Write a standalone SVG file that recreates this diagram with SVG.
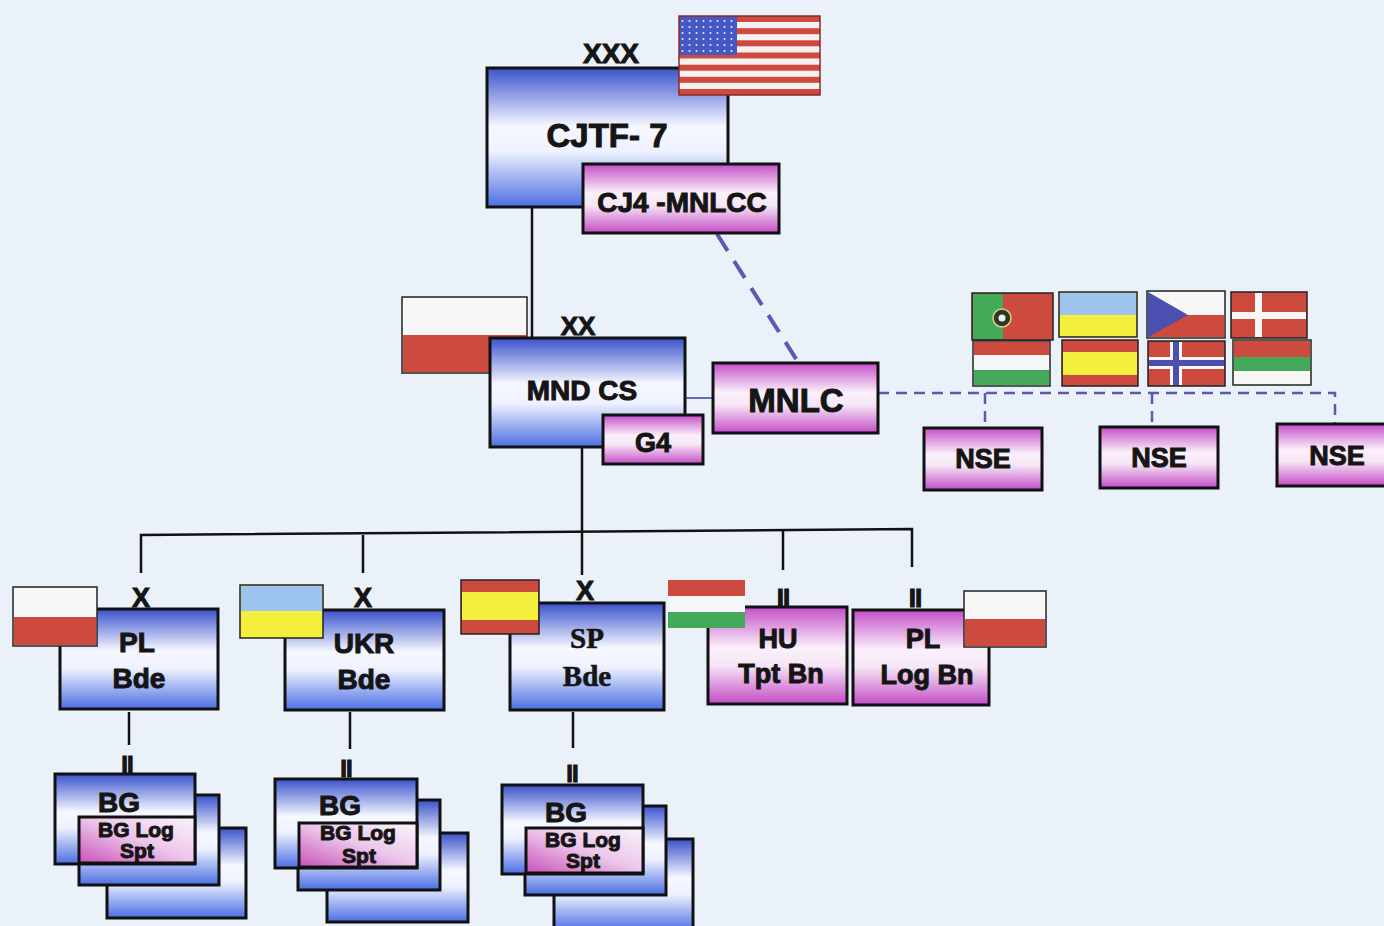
<svg xmlns="http://www.w3.org/2000/svg" width="1384" height="926" viewBox="0 0 1384 926">
<defs>
<linearGradient id="gBlue" x1="0" y1="0" x2="0" y2="1">
<stop offset="0" stop-color="#3a52cc"/>
<stop offset="0.42" stop-color="#f6f8ff"/>
<stop offset="0.6" stop-color="#eef2ff"/>
<stop offset="1" stop-color="#4a6ee2"/>
</linearGradient>
<linearGradient id="gPink" x1="0" y1="0" x2="0" y2="1">
<stop offset="0" stop-color="#c44ec8"/>
<stop offset="0.42" stop-color="#faf0fa"/>
<stop offset="0.6" stop-color="#f6e6f6"/>
<stop offset="1" stop-color="#c44cc6"/>
</linearGradient>
<linearGradient id="gPinkD" x1="1" y1="0" x2="0" y2="1">
<stop offset="0" stop-color="#faf4fa"/>
<stop offset="0.5" stop-color="#ecc4ea"/>
<stop offset="1" stop-color="#c850b8"/>
</linearGradient>
<pattern id="stars" width="7" height="6" patternUnits="userSpaceOnUse">
<rect width="7" height="6" fill="#4658c4"/>
<circle cx="3.5" cy="3" r="1" fill="#e8ecff"/>
</pattern>
</defs>
<style>
.box{stroke:#111;stroke-width:3}
.b{fill:url(#gBlue)}
.p{fill:url(#gPink)}
.pd{fill:url(#gPinkD)}
.t{font-family:"Liberation Sans",Arial,sans-serif;font-weight:bold;fill:#151515;text-anchor:middle;stroke:#151515;stroke-width:1}
.s{font-family:"Liberation Serif","Times New Roman",serif;font-weight:bold;fill:#151515;text-anchor:middle;stroke:#151515;stroke-width:0.6}
.ln{stroke:#111;stroke-width:2.5;fill:none}
.dl{stroke:#5a5ab0;fill:none}
.fl{stroke:#222;stroke-width:1.5}
.red{fill:#cc4a3e}
.wht{fill:#f7f7f7}
.grn{fill:#45a95a}
.yel{fill:#f4ef3c}
.sky{fill:#9cc4ee}
.nav{fill:#4b4fb0}
</style>
<rect width="1384" height="926" fill="#eaf1f8"/>

<g id="connectors">
<line class="ln" x1="532" y1="207" x2="532" y2="338"/>
<line x1="685" y1="398" x2="713" y2="398" stroke="#6a6ab8" stroke-width="2"/>
<line class="dl" x1="717" y1="234" x2="798" y2="362" stroke-width="4" stroke-dasharray="20 12"/>
<path class="dl" d="M878,393 H1335 V424 M985,393 V428 M1152,393 V427" stroke-width="2.5" stroke-dasharray="11 7"/>
<line class="ln" x1="582" y1="447" x2="582" y2="575"/>
<polyline class="ln" points="141,573 141,535 912,529 912,567"/>
<line class="ln" x1="363" y1="535" x2="363" y2="573"/>
<line class="ln" x1="783" y1="531" x2="783" y2="570"/>
<line class="ln" x1="129" y1="712" x2="129" y2="745"/>
<line class="ln" x1="350" y1="712" x2="350" y2="749"/>
<line class="ln" x1="573" y1="712" x2="573" y2="748"/>
</g>

<g id="cjtf7">
<rect class="box b" x="487" y="68" width="241" height="139"/>
<text class="t" x="611" y="63" font-size="28">XXX</text>
<text class="t" x="607" y="147" font-size="33">CJTF- 7</text>
<g id="flag-us">
<rect x="679" y="16" width="141" height="79" fill="#f6f0f0"/>
<rect class="red" x="679" y="16" width="141" height="6"/>
<rect class="red" x="679" y="28.2" width="141" height="6"/>
<rect class="red" x="679" y="40.3" width="141" height="6"/>
<rect class="red" x="679" y="52.5" width="141" height="6"/>
<rect class="red" x="679" y="64.7" width="141" height="6"/>
<rect class="red" x="679" y="76.8" width="141" height="6"/>
<rect class="red" x="679" y="89" width="141" height="6"/>
<rect x="679" y="16" width="58" height="39" fill="url(#stars)"/>
<rect x="679" y="16" width="141" height="79" fill="none" stroke="#8a2a2a" stroke-width="1.5"/>
</g>
</g>

<g id="cj4-mnlcc">
<rect class="box p" x="583" y="164" width="196" height="69"/>
<text class="t" x="682" y="212" font-size="28">CJ4 -MNLCC</text>
</g>

<g id="mnd-cs">
<rect class="fl wht" x="402" y="297" width="125" height="76"/>
<rect class="red" x="403" y="335" width="123" height="37"/>
<rect class="box b" x="490" y="338" width="195" height="109"/>
<text class="t" x="578" y="335" font-size="26">XX</text>
<text class="t" x="582" y="400" font-size="28">MND CS</text>
</g>

<g id="g4">
<rect class="box p" x="603" y="415" width="100" height="49"/>
<text class="t" x="653" y="452" font-size="27">G4</text>
</g>

<g id="mnlc">
<rect class="box p" x="713" y="363" width="165" height="70"/>
<text class="t" x="796" y="412" font-size="33">MNLC</text>
</g>

<g id="nse-flags">
<rect class="fl red" x="972" y="293" width="81" height="47"/>
<rect class="grn" x="973" y="294" width="30" height="45"/>
<circle cx="1002" cy="318" r="9" fill="#2a3a2a" stroke="#e0d080" stroke-width="1.5"/>
<circle cx="1002" cy="318" r="3.5" fill="#f0f0f0"/>
<rect class="fl yel" x="1059" y="292" width="78" height="45"/>
<rect class="sky" x="1060" y="293" width="76" height="22"/>
<rect class="fl wht" x="1147" y="291" width="78" height="47"/>
<rect class="red" x="1148" y="315" width="76" height="22"/>
<polygon points="1148,292 1188,315 1148,337" fill="#4b4fb0"/>
<rect class="fl red" x="1231" y="292" width="76" height="46"/>
<rect class="wht" x="1255" y="293" width="7" height="44"/>
<rect class="wht" x="1232" y="312" width="74" height="7"/>
<rect class="fl wht" x="973" y="341" width="77" height="45"/>
<rect class="red" x="974" y="342" width="75" height="13"/>
<rect class="grn" x="974" y="370" width="75" height="15"/>
<rect class="fl red" x="1062" y="340" width="76" height="46"/>
<rect class="yel" x="1063" y="352" width="74" height="23"/>
<rect class="fl red" x="1148" y="341" width="77" height="45"/>
<rect class="wht" x="1170" y="342" width="12" height="43"/>
<rect class="wht" x="1149" y="357" width="75" height="12"/>
<rect class="nav" x="1173" y="342" width="6" height="43"/>
<rect class="nav" x="1149" y="360" width="75" height="6"/>
<rect class="fl wht" x="1233" y="340" width="78" height="45"/>
<rect class="red" x="1234" y="341" width="76" height="16"/>
<rect class="grn" x="1234" y="357" width="76" height="14"/>
</g>

<g id="nse-1">
<rect class="box p" x="924" y="428" width="118" height="62"/>
<text class="t" x="983" y="468" font-size="27">NSE</text>
</g>
<g id="nse-2">
<rect class="box p" x="1100" y="427" width="118" height="61"/>
<text class="t" x="1159" y="467" font-size="27">NSE</text>
</g>
<g id="nse-3">
<rect class="box p" x="1277" y="424" width="112" height="62"/>
<text class="t" x="1337" y="465" font-size="27">NSE</text>
</g>

<g id="pl-bde">
<rect class="box b" x="60" y="609" width="158" height="100"/>
<rect class="fl wht" x="13" y="587" width="84" height="59"/>
<rect class="red" x="14" y="617" width="82" height="28"/>
<text class="t" x="141" y="607" font-size="27">X</text>
<text class="t" x="137" y="652" font-size="28">PL</text>
<text class="t" x="139" y="688" font-size="28">Bde</text>
</g>

<g id="ukr-bde">
<rect class="box b" x="285" y="610" width="159" height="100"/>
<rect class="fl yel" x="240" y="585" width="83" height="53"/>
<rect class="sky" x="241" y="586" width="81" height="25"/>
<text class="t" x="363" y="607" font-size="27">X</text>
<text class="t" x="364" y="653" font-size="28">UKR</text>
<text class="t" x="364" y="689" font-size="28">Bde</text>
</g>

<g id="sp-bde">
<rect class="box b" x="510" y="603" width="154" height="107"/>
<rect class="fl red" x="461" y="580" width="78" height="54"/>
<rect class="yel" x="462" y="592" width="76" height="28"/>
<text class="t" x="585" y="600" font-size="27">X</text>
<text class="s" x="587" y="648" font-size="29">SP</text>
<text class="s" x="587" y="686" font-size="29">Bde</text>
</g>

<g id="hu-tpt-bn">
<rect class="box p" x="708" y="607" width="139" height="97"/>
<rect class="red" x="668" y="580" width="77" height="16"/>
<rect fill="#f4f6f8" x="668" y="596" width="77" height="16"/>
<rect class="grn" x="668" y="612" width="77" height="16"/>
<text class="t" x="783" y="607" font-size="26" letter-spacing="-1">II</text>
<text class="t" x="778" y="648" font-size="27">HU</text>
<text class="t" x="781" y="683" font-size="27">Tpt Bn</text>
</g>

<g id="pl-log-bn">
<rect class="box p" x="853" y="610" width="136" height="95"/>
<rect class="fl wht" x="964" y="591" width="82" height="56"/>
<rect class="red" x="965" y="619" width="80" height="27"/>
<text class="t" x="915" y="607" font-size="26" letter-spacing="-1">II</text>
<text class="t" x="923" y="648" font-size="27">PL</text>
<text class="t" x="927" y="684" font-size="27">Log Bn</text>
</g>

<g id="bg-pl">
<rect class="box b" x="107" y="828" width="139" height="90"/>
<rect class="box b" x="79" y="795" width="140" height="90"/>
<rect class="box b" x="55" y="774" width="140" height="90"/>
<rect class="box pd" x="79" y="817" width="116" height="46" stroke-width="2"/>
<text class="t" x="127" y="773" font-size="24" letter-spacing="-1">II</text>
<text class="t" x="119" y="812" font-size="28">BG</text>
<text class="t" x="136" y="837" font-size="21">BG Log</text>
<text class="t" x="137" y="858" font-size="21">Spt</text>
</g>

<g id="bg-ukr">
<rect class="box b" x="327" y="833" width="141" height="89"/>
<rect class="box b" x="298" y="800" width="142" height="90"/>
<rect class="box b" x="275" y="779" width="142" height="89"/>
<rect class="box pd" x="299" y="823" width="118" height="44" stroke-width="2"/>
<text class="t" x="346" y="777" font-size="24" letter-spacing="-1">II</text>
<text class="t" x="340" y="815" font-size="28">BG</text>
<text class="t" x="358" y="840" font-size="21">BG Log</text>
<text class="t" x="359" y="863" font-size="21">Spt</text>
</g>

<g id="bg-sp">
<rect class="box b" x="554" y="839" width="139" height="92"/>
<rect class="box b" x="525" y="806" width="141" height="89"/>
<rect class="box b" x="502" y="785" width="141" height="89"/>
<rect class="box pd" x="526" y="828" width="117" height="45" stroke-width="2"/>
<text class="t" x="572" y="782" font-size="24" letter-spacing="-1">II</text>
<text class="t" x="566" y="822" font-size="28">BG</text>
<text class="t" x="583" y="847" font-size="21">BG Log</text>
<text class="t" x="583" y="868" font-size="21">Spt</text>
</g>
</svg>
